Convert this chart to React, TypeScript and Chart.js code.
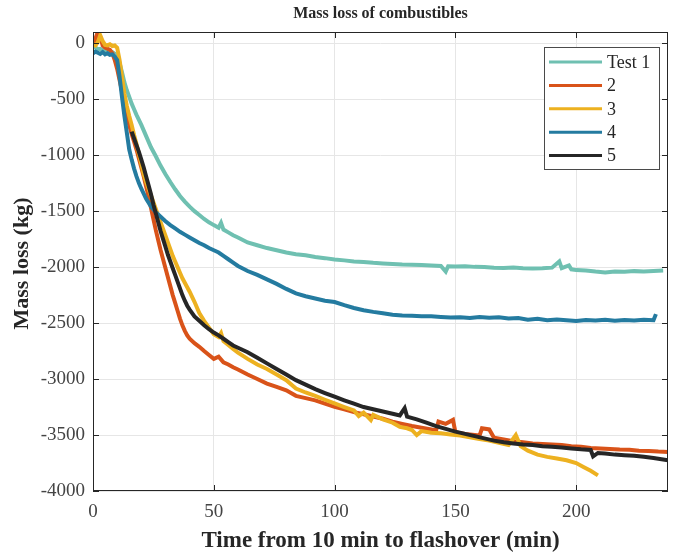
import React, { useEffect, useRef } from "react";
import { Chart, registerables } from "chart.js";

Chart.register(...registerables);

const chartTitle = "Mass loss of combustibles";
const xTitle = "Time from 10 min to flashover (min)";
const yTitle = "Mass loss (kg)";
const xTicks = [0, 50, 100, 150, 200];
const yTicks = [0, -500, -1000, -1500, -2000, -2500, -3000, -3500, -4000];
const seriesLabels = ["Test 1", "2", "3", "4", "5"];
const seriesColors = ["#6fc0b1", "#d95319", "#edb120", "#247ba0", "#262626"];

// [time (min), mass loss (kg)]
const test1: [number, number][] = [
  [0, -40], [1, -35], [2, -55], [3, -50], [4, -60], [5, -65], [6, -70], [7, -75], [8, -80], [9, -95],
  [10, -120], [11, -175], [12, -260], [13, -350], [14, -420], [15, -480], [16, -540], [17, -590], [18, -640],
  [19, -685], [20, -730], [22, -830], [24, -930], [26, -1010], [28, -1095], [30, -1170], [32, -1240],
  [34, -1305], [36, -1365], [38, -1415], [40, -1460], [42, -1500], [44, -1535], [46, -1570], [48, -1600],
  [50, -1625], [52, -1648], [53, -1605], [54, -1665], [56, -1690], [58, -1715], [60, -1735], [64, -1780],
  [68, -1805], [72, -1830], [76, -1850], [80, -1870], [84, -1885], [88, -1895], [92, -1910], [96, -1920],
  [100, -1932], [104, -1940], [108, -1950], [112, -1955], [116, -1962], [120, -1967], [124, -1972],
  [128, -1977], [132, -1980], [136, -1982], [140, -1985], [144, -1990], [146, -2040], [147, -1992],
  [150, -1995], [154, -1993], [158, -1998], [162, -2000], [166, -2005], [170, -2008], [174, -2003],
  [178, -2010], [182, -2012], [186, -2010], [190, -2005], [193, -1950], [194, -2010], [197, -1985],
  [198, -2020], [200, -2027], [204, -2030], [208, -2040], [212, -2048], [216, -2040], [220, -2042],
  [224, -2036], [228, -2040], [232, -2035], [236, -2030],
];

const test2: [number, number][] = [
  [0, -20], [1, 40], [2, 100], [3, 60], [4, -20], [5, -40], [6, -50], [7, -60], [8, -90], [9, -150],
  [10, -230], [11, -330], [12, -430], [13, -540], [14, -640], [15, -730], [16, -810], [17, -880], [18, -950],
  [19, -1030], [20, -1110], [21, -1190], [22, -1280], [23, -1370], [24, -1470], [25, -1570], [26, -1670],
  [27, -1760], [28, -1850], [29, -1930], [30, -2010], [31, -2090], [32, -2170], [33, -2250], [34, -2320],
  [35, -2390], [36, -2460], [37, -2520], [38, -2570], [39, -2610], [40, -2640], [42, -2680], [44, -2712],
  [46, -2750], [48, -2785], [50, -2820], [52, -2800], [54, -2850], [56, -2870], [58, -2895], [60, -2915],
  [64, -2960], [68, -3000], [72, -3040], [76, -3070], [80, -3100], [84, -3150], [88, -3170], [92, -3190],
  [96, -3220], [100, -3248], [104, -3270], [108, -3295], [112, -3315], [116, -3335], [120, -3355],
  [124, -3380], [128, -3400], [132, -3420], [136, -3435], [140, -3450], [142, -3460], [143, -3380],
  [146, -3400], [149, -3365], [150, -3475], [154, -3490], [158, -3500], [160, -3505], [161, -3440],
  [164, -3450], [166, -3525], [170, -3540], [174, -3555], [178, -3565], [182, -3575], [186, -3580],
  [190, -3585], [194, -3590], [198, -3600], [202, -3605], [206, -3615], [210, -3620], [214, -3625],
  [218, -3630], [222, -3632], [226, -3640], [230, -3642], [234, -3648], [238, -3652],
];

const test3: [number, number][] = [
  [0, -10], [1, -20], [2, 10], [3, 70], [4, 20], [5, -15], [6, -20], [7, -10], [8, -25], [9, -20],
  [10, -40], [11, -150], [12, -300], [13, -450], [14, -560], [15, -650], [16, -730], [17, -820], [18, -900],
  [19, -990], [20, -1080], [21, -1170], [22, -1240], [23, -1300], [24, -1360], [25, -1420], [26, -1480],
  [27, -1540], [28, -1600], [29, -1660], [30, -1720], [31, -1780], [32, -1840], [33, -1900], [34, -1950],
  [35, -2000], [36, -2050], [37, -2100], [38, -2140], [39, -2180], [40, -2220], [42, -2310], [44, -2410],
  [46, -2480], [48, -2540], [50, -2600], [52, -2625], [53, -2590], [54, -2660], [56, -2695], [58, -2730],
  [60, -2765], [64, -2820], [68, -2870], [72, -2910], [76, -2960], [80, -3010], [84, -3085], [88, -3120],
  [92, -3150], [96, -3185], [100, -3218], [104, -3250], [108, -3280], [110, -3330], [112, -3300],
  [115, -3366], [116, -3320], [120, -3360], [124, -3390], [127, -3427], [130, -3440], [132, -3455],
  [134, -3500], [136, -3465], [140, -3480], [144, -3485], [148, -3495], [152, -3505], [156, -3520],
  [160, -3535], [164, -3550], [168, -3570], [172, -3590], [175, -3500], [177, -3600], [180, -3640],
  [184, -3675], [188, -3695], [192, -3710], [196, -3725], [200, -3750], [203, -3785], [206, -3820],
  [209, -3860],
];

const test4: [number, number][] = [
  [0, -90], [1, -75], [2, -85], [3, -95], [4, -80], [5, -100], [6, -90], [7, -105], [8, -100], [9, -120],
  [10, -150], [11, -300], [12, -480], [13, -650], [14, -800], [15, -950], [16, -1040], [17, -1120],
  [18, -1190], [19, -1250], [20, -1300], [22, -1390], [24, -1460], [26, -1510], [28, -1550], [30, -1590],
  [32, -1625], [34, -1655], [36, -1685], [38, -1710], [40, -1735], [42, -1760], [44, -1785], [46, -1805],
  [48, -1830], [50, -1850], [52, -1870], [54, -1900], [56, -1930], [58, -1960], [60, -1990], [64, -2035],
  [68, -2070], [72, -2110], [76, -2150], [80, -2195], [84, -2235], [88, -2260], [92, -2280], [96, -2300],
  [100, -2312], [104, -2340], [108, -2365], [112, -2385], [116, -2400], [120, -2412], [124, -2425],
  [128, -2432], [132, -2435], [136, -2438], [140, -2440], [144, -2445], [148, -2450], [152, -2448],
  [156, -2455], [160, -2445], [164, -2452], [168, -2448], [172, -2460], [176, -2455], [180, -2470],
  [184, -2462], [188, -2475], [192, -2468], [196, -2475], [200, -2482], [204, -2472], [208, -2478],
  [212, -2470], [216, -2480], [220, -2472], [224, -2478], [228, -2470], [232, -2475], [233, -2420],
];

const test5: [number, number][] = [
  [16, -790], [17, -850], [18, -910], [19, -970], [20, -1040], [21, -1110], [22, -1190], [23, -1270],
  [24, -1350], [25, -1440], [26, -1520], [27, -1600], [28, -1680], [29, -1750], [30, -1820], [31, -1890],
  [32, -1950], [33, -2010], [34, -2070], [35, -2130], [36, -2190], [37, -2250], [38, -2300], [39, -2345],
  [40, -2380], [42, -2440], [44, -2480], [46, -2520], [48, -2555], [50, -2585], [52, -2610], [54, -2640],
  [56, -2670], [58, -2700], [60, -2720], [64, -2760], [68, -2810], [72, -2860], [76, -2910], [80, -2960],
  [84, -3010], [88, -3050], [92, -3090], [96, -3125], [100, -3158], [104, -3190], [108, -3220],
  [112, -3250], [116, -3270], [120, -3290], [124, -3310], [127, -3325], [129, -3260], [130, -3335],
  [134, -3360], [138, -3390], [142, -3420], [146, -3445], [150, -3470], [154, -3490], [158, -3510],
  [162, -3530], [166, -3550], [170, -3565], [174, -3575], [178, -3585], [182, -3590], [186, -3600],
  [190, -3605], [194, -3612], [198, -3620], [202, -3628], [206, -3634], [207, -3690], [209, -3660],
  [212, -3665], [216, -3675], [220, -3680], [224, -3685], [228, -3695], [232, -3705], [236, -3718],
  [238, -3725],
];

const seriesData = [test1, test2, test3, test4, test5];

const FONT = "'Liberation Serif', 'Times New Roman', serif";

const matlabFrame = {
  id: "matlabFrame",
  afterDraw(chart: any) {
    const { ctx, chartArea: a, scales } = chart;
    const xs = scales.x;
    const ys = scales.y;
    ctx.save();
    ctx.strokeStyle = "#262626";
    ctx.lineWidth = 1;
    ctx.strokeRect(a.left + 0.5, a.top + 0.5, a.right - a.left - 1, a.bottom - a.top - 1);
    const tl = 6;
    ctx.beginPath();
    xTicks.forEach((v) => {
      const px = Math.round(xs.getPixelForValue(v)) + 0.5;
      ctx.moveTo(px, a.bottom);
      ctx.lineTo(px, a.bottom - tl);
      ctx.moveTo(px, a.top);
      ctx.lineTo(px, a.top + tl);
    });
    yTicks.forEach((v) => {
      const py = Math.round(ys.getPixelForValue(v)) + 0.5;
      ctx.moveTo(a.left, py);
      ctx.lineTo(a.left + tl, py);
      ctx.moveTo(a.right, py);
      ctx.lineTo(a.right - tl, py);
    });
    ctx.stroke();

    // legend
    const lx = 544, ly = 47, lw = 115, lh = 122;
    ctx.fillStyle = "#ffffff";
    ctx.fillRect(lx, ly, lw, lh);
    ctx.strokeStyle = "#4a4a4a";
    ctx.strokeRect(lx + 0.5, ly + 0.5, lw, lh);
    ctx.font = `18px ${FONT}`;
    ctx.textBaseline = "middle";
    ctx.textAlign = "left";
    seriesLabels.forEach((lab, i) => {
      const y = ly + 15 + i * 23.4;
      ctx.strokeStyle = seriesColors[i];
      ctx.lineWidth = 3;
      ctx.beginPath();
      ctx.moveTo(lx + 5, y);
      ctx.lineTo(lx + 58, y);
      ctx.stroke();
      ctx.fillStyle = "#262626";
      ctx.fillText(lab, lx + 63, y + 1);
    });

    // titles
    const cx = (a.left + a.right) / 2;
    ctx.fillStyle = "#262626";
    ctx.textAlign = "center";
    ctx.textBaseline = "middle";
    ctx.font = `bold 16px ${FONT}`;
    ctx.fillText(chartTitle, cx, 14);
    ctx.font = `bold 23px ${FONT}`;
    ctx.fillText(xTitle, cx, 541);
    ctx.save();
    ctx.translate(22, (a.top + a.bottom) / 2 + 2);
    ctx.rotate(-Math.PI / 2);
    ctx.font = `bold 22px ${FONT}`;
    ctx.fillText(yTitle, 0, 0);
    ctx.restore();
    ctx.restore();
  },
};

export default function App() {
  const ref = useRef<HTMLCanvasElement | null>(null);
  useEffect(() => {
    if (!ref.current) return;
    const chart = new Chart(ref.current, {
      type: "line",
      data: {
        datasets: seriesData.map((d, i) => ({
          label: seriesLabels[i],
          data: d.map(([x, y]) => ({ x, y })),
          borderColor: seriesColors[i],
          backgroundColor: seriesColors[i],
          borderWidth: 4,
          pointRadius: 0,
          tension: 0,
          fill: false,
          clip: 0,
          order: seriesData.length - i,
        })),
      },
      options: {
        animation: false,
        responsive: true,
        maintainAspectRatio: false,
        events: [],
        layout: { padding: { top: 32, right: 5, left: 0, bottom: 0 } },
        plugins: {
          legend: { display: false },
          title: { display: false },
          tooltip: { enabled: false },
        },
        scales: {
          x: {
            type: "linear",
            min: 0,
            max: 238,
            afterFit: (s: any) => {
              s.height = 63;
            },
            afterBuildTicks: (s: any) => {
              s.ticks = xTicks.map((v) => ({ value: v }));
            },
            grid: { color: "#e6e6e6", lineWidth: 1, drawTicks: false },
            border: { display: false },
            ticks: {
              padding: 10,
              color: "#444444",
              font: { family: FONT, size: 19 },
              maxRotation: 0,
              callback: (v: any) => String(v),
            },
          },
          y: {
            type: "linear",
            min: -4000,
            max: 100,
            afterFit: (s: any) => {
              s.width = 93;
            },
            afterBuildTicks: (s: any) => {
              s.ticks = yTicks.map((v) => ({ value: v }));
            },
            grid: { color: "#e6e6e6", lineWidth: 1, drawTicks: false },
            border: { display: false },
            ticks: {
              padding: 8,
              color: "#444444",
              font: { family: FONT, size: 19 },
              callback: (v: any) => String(v),
            },
          },
        },
      },
      plugins: [matlabFrame],
    });
    return () => chart.destroy();
  }, []);
  return (
    <div style={{ position: "absolute", left: 0, top: 0, width: 673, height: 554 }}>
      <canvas ref={ref} />
    </div>
  );
}
